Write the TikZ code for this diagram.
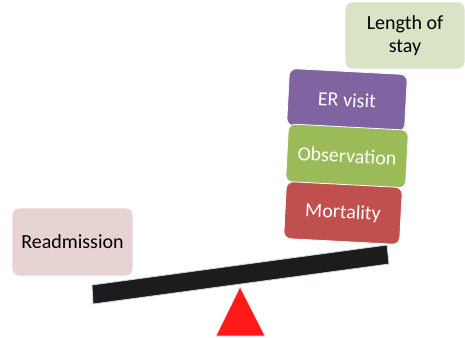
\documentclass[tikz,border=0pt]{standalone}
\usepackage{fontspec}
\setmainfont{Carlito}
\usepackage{tikz}
\usepackage{tkz-euclide}
\definecolor{erpurple}{HTML}{8064A2}
\definecolor{obsgreen}{HTML}{9BBB59}
\definecolor{mortred}{HTML}{C0504D}
\definecolor{staygreen}{HTML}{D9E4C6}
\definecolor{readpink}{HTML}{E8D3D3}
\definecolor{beamedge}{HTML}{C8D8E8}
\definecolor{pivotred}{HTML}{FF1A1A}
\tikzset{
  box/.style={rectangle, rounded corners=7pt, draw=white, line width=0.8pt,
    minimum width=118pt, minimum height=57pt, inner sep=0pt,
    font=\fontsize{20}{23}\selectfont},
  weight/.style={box, rotate=-3, text=white}
}

\begin{document}
\begin{tikzpicture}[x=1pt, y=-1pt]
							\useasboundingbox (0,0) rectangle (465,337);
							\tkzDefPoint(92,285){A};
							\tkzDefPoint(93,304){B};
							\tkzDefPoint(389,264){C};
							\tkzDefPoint(387,245){D};
							\tkzDrawPolygon[line width=0.8pt, draw=beamedge, fill=black!89](A,B,C,D);
							
							\tkzDefPoint(240,287){P};
							\tkzDefPoint(216,336){Q};
							\tkzDefPoint(265,336){R};
							\tkzDrawPolygon[line width=0.6pt, draw=white!85!red, fill=pivotred](P,Q,R);
							
							\node[box, fill=readpink, minimum width=121pt, minimum height=68pt] (readm) at (72.5,242) {Readmission};
							\node[box, fill=staygreen, minimum width=120pt, minimum height=67pt, align=center] (stay) at (405,35.5) {Length of\\stay};
							
							\node[weight, fill=erpurple] (er) at (347,100) {ER visit};
							\node[weight, fill=obsgreen, minimum width=120pt, minimum height=58pt] (obs) at (347,156) {Observation};
							\node[weight, fill=mortred, minimum width=116pt] (mort) at (343,213) {Mortality};
						\end{tikzpicture}
\end{document}
